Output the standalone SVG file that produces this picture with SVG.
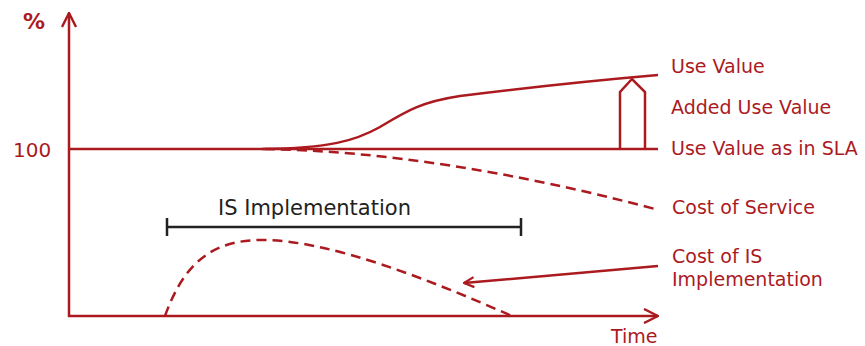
<svg xmlns="http://www.w3.org/2000/svg" width="865" height="346" viewBox="0 0 865 346">
<style>
.ax{stroke:#ab1a1f;stroke-width:2.5;fill:none}
.ln{stroke:#ab1a1f;stroke-width:2.5;fill:none}
.ds{stroke:#ab1a1f;stroke-width:2.5;fill:none;stroke-dasharray:10 6}
.t{font-family:"DejaVu Sans","Verdana",sans-serif;font-size:19px;fill:#ab1a1f}
.k{font-family:"DejaVu Sans","Verdana",sans-serif;font-size:21px;fill:#222}
</style>
<defs>
<marker id="ah" viewBox="0 0 12 12" refX="11" refY="6" markerWidth="12" markerHeight="12" markerUnits="userSpaceOnUse" orient="auto">
<path d="M1,1 L11,6 L1,11" fill="none" stroke="#ab1a1f" stroke-width="2.2"/>
</marker>
<marker id="ah2" viewBox="0 0 16 16" refX="15" refY="8" markerWidth="16" markerHeight="16" markerUnits="userSpaceOnUse" orient="auto">
<path d="M1,1 L15,8 L1,15" fill="none" stroke="#ab1a1f" stroke-width="2.4"/>
</marker>
</defs>
<g id="axes">
<path class="ax" d="M69,317 L69,13" marker-end="url(#ah2)"/>
<path class="ax" d="M68,316 L658,316" marker-end="url(#ah2)"/>
<text class="t" x="23" y="29" style="font-weight:bold;font-size:22px">%</text>
<text class="t" x="13" y="157" style="font-size:20px">100</text>
<text class="t" x="611" y="343">Time</text>
</g>
<g id="sla-line">
<path class="ln" d="M69,149 L658,149"/>
<text class="t" x="671" y="155">Use Value as in SLA</text>
</g>
<g id="use-value">
<path class="ln" d="M262,149 C330,148 355,141 380,127 C405,112 420,102 460,96 C540,86 600,80 658,75"/>
<text class="t" x="671" y="73">Use Value</text>
</g>
<g id="added-use-value">
<path class="ln" d="M620,149 L620,92 L632,79 L645,92 L645,149"/>
<text class="t" x="671" y="114">Added Use Value</text>
</g>
<g id="cost-of-service">
<path class="ds" d="M265,149 Q440,152 655,209"/>
<text class="t" x="672" y="214">Cost of Service</text>
</g>
<g id="is-implementation">
<path d="M167,227 L521,227 M167,218 L167,236 M521,218 L521,236" stroke="#222" stroke-width="2.5" fill="none"/>
<text class="k" x="218" y="215">IS Implementation</text>
</g>
<g id="cost-of-is">
<path class="ds" d="M165,316 C185,260 215,240 262,240 C330,240 430,280 512,316"/>
<text class="t" x="672" y="263">Cost of IS</text>
<text class="t" x="672" y="286">Implementation</text>
</g>
<g id="connectors">
<path class="ln" d="M658,266 L464,283" stroke-width="2" marker-end="url(#ah)"/>
</g>
</svg>
